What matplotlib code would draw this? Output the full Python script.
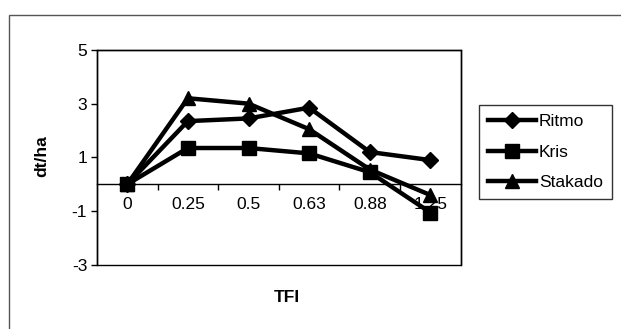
import matplotlib
matplotlib.use('Agg')
import matplotlib.pyplot as plt
from matplotlib.patches import Rectangle

plt.rcParams['font.family'] = ['Liberation Sans', 'DejaVu Sans']

tfi = ['0', '0.25', '0.5', '0.63', '0.88', '1.25']
ritmo = [0, 2.35, 2.45, 2.85, 1.2, 0.9]
kris = [0, 1.35, 1.35, 1.15, 0.45, -1.05]
stakado = [0, 3.2, 3.0, 2.05, 0.55, -0.4]
yticks = [-3, -1, 1, 3, 5]

fig = plt.figure(figsize=(6.21, 3.29), dpi=100)
ax = fig.add_axes([0.156, 0.1945, 0.586, 0.654])

x = list(range(len(tfi)))
ax.plot(x, ritmo, color='black', lw=3.2, marker='D', ms=8.5, label='Ritmo', clip_on=False)
ax.plot(x, kris, color='black', lw=3.2, marker='s', ms=9.5, label='Kris', clip_on=False)
ax.plot(x, stakado, color='black', lw=3.2, marker='^', ms=9.5, label='Stakado', clip_on=False)

ax.set_xlim(-0.5, len(tfi) - 0.5)
ax.set_ylim(-3, 5)
ax.set_yticks(yticks)
ax.set_yticklabels([str(v) for v in yticks], fontsize=12.5)
ax.tick_params(axis='y', direction='out', length=4, width=1, pad=3)

# x axis crosses at y = 0
ax.spines['bottom'].set_position(('data', 0))
for s in ax.spines.values():
    s.set_linewidth(1)
ax.set_xticks(x)
ax.set_xticklabels(tfi, fontsize=12.5)
ax.set_xticks([i + 0.5 for i in x[:-1]], minor=True)
ax.tick_params(axis='x', which='major', length=0, pad=9)
ax.tick_params(axis='x', which='minor', direction='out', length=4, width=1)
ax.add_patch(Rectangle((0, 0), 1, 1, transform=ax.transAxes, fill=False,
                       lw=1, ec='black', clip_on=False, zorder=0))

fig.text(42 / 621, 1 - 156 / 329, 'dt/ha', rotation=90, ha='center', va='center',
         fontsize=12.5, fontweight='bold')
fig.text(287 / 621, 1 - 297 / 329, 'TFI', ha='center', va='center',
         fontsize=12.5, fontweight='bold')

leg = fig.legend(loc='upper left', bbox_to_anchor=(479 / 621, 1 - 105 / 329),
                 fontsize=12.5, frameon=True, fancybox=False, handlelength=2.8,
                 borderpad=0.5, labelspacing=0.9, handletextpad=0.15,
                 borderaxespad=0)
leg.get_frame().set_edgecolor('black')
leg.get_frame().set_linewidth(1)

# outer chart area border
fig.patches.append(Rectangle((9 / 621, -0.1), 1.2, 1 - 15 / 329 + 0.1,
                             transform=fig.transFigure, fill=False,
                             ec='#555555', lw=1))

fig.savefig('out.png', dpi=100)
